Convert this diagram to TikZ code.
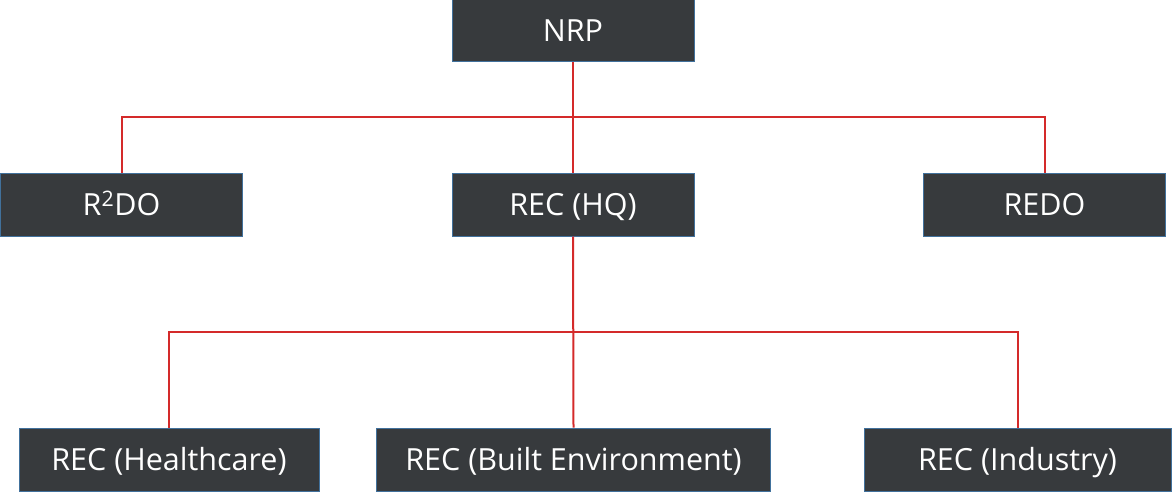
\documentclass[tikz,border=0pt]{standalone}
\usepackage{fontspec}
\setmainfont{Open Sans}
\usepackage{tikz}
\usetikzlibrary{calc}

\definecolor{boxgray}{HTML}{373A3D}
\definecolor{boxblue}{HTML}{41719C}
\definecolor{linkred}{HTML}{D42A2A}

\tikzset{
	unit/.style = {fill = boxgray, draw = boxblue, line width = 1pt, text = white,
		inner sep = 0pt, minimum height = 63pt, text height = 21.5pt, text depth = 0pt,
		font = \fontsize{30.5}{34}\selectfont},
	link/.style = {draw = linkred, line width = 2pt}
}

\begin{document}
\begin{tikzpicture}[x = 1pt, y = -1pt]
				\useasboundingbox (0,0) rectangle (1172,492);
				
				\node (nrp) at (573,31)[unit, minimum width = 242pt, minimum height = 62pt]{NRP};
				
				\node (rtdo) at (121.5,204.5)[unit, minimum width = 242pt]{R\textsuperscript{2}DO};
				\node (hq) at (573,204.5)[unit, minimum width = 242pt]{REC (HQ)};
				\node (redo) at (1044.5,204.5)[unit, minimum width = 242pt]{REDO};
				
				\node (health) at (169,459.5)[unit, minimum width = 300pt]{REC (Healthcare)};
				\node (built) at (573.5,459.5)[unit, minimum width = 394pt]{REC (Built Environment)};
				\node (industry) at (1017.5,459.5)[unit, minimum width = 307pt]{REC (Industry)};
				
				\coordinate (topbus) at (573,117);
				\coordinate (lowbus) at (573,332);
				
				\draw[link] (nrp.south)--(hq.north);
				\draw[link] (rtdo.north) |- (topbus) -| (redo.north);
				\draw[link] (hq.south)--(built.north);
				\draw[link] (health.north) |- (lowbus) -| (industry.north);
			\end{tikzpicture}
\end{document}
